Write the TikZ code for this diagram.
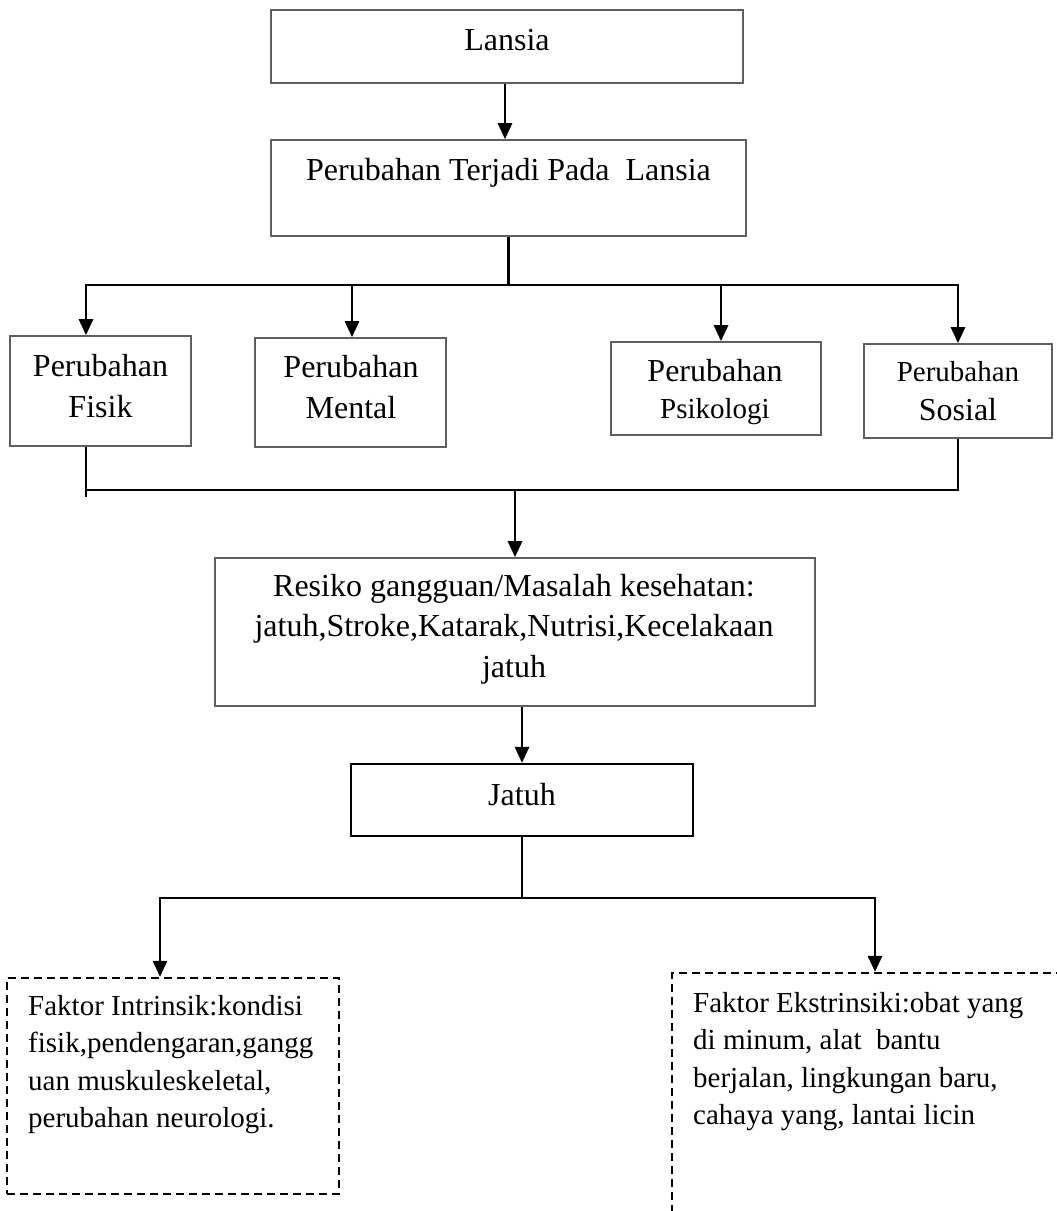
\documentclass[tikz,border=0pt]{standalone}
\usepackage{fontspec}
\setmainfont{Liberation Serif}
\usetikzlibrary{arrows.meta}
\definecolor{boxgray}{RGB}{95,95,95}
\begin{document}
\begin{tikzpicture}[x=1pt,y=-1pt,
  box/.style={draw=boxgray, line width=1.6pt, inner sep=0pt, rectangle},
  darkbox/.style={draw=black, line width=2.2pt, inner sep=0pt, rectangle},
  dbox/.style={draw=black, line width=2.2pt, dash pattern=on 8pt off 5pt, inner sep=0pt, rectangle},
  conn/.style={line width=2.8pt},
  arr/.style={line width=2.8pt, -{Triangle[length=16pt,width=14pt]}},
  big/.style={font=\fontsize{32}{40}\selectfont, inner sep=0pt, align=center, anchor=north},
  small/.style={font=\fontsize{29}{37.5}\selectfont, inner sep=0pt, align=left, anchor=north west},
]
\useasboundingbox (0,0) rectangle (1057,1211);

% boxes
\node[box, minimum width=472pt, minimum height=73pt] (lansia) at (507,46.5) {};
\node[box, minimum width=475pt, minimum height=96pt] (trans) at (508.5,188) {};
\node[box, minimum width=181pt, minimum height=110pt] (fisik) at (100.5,391) {};
\node[box, minimum width=191pt, minimum height=109pt] (mental) at (350.5,392.5) {};
\node[box, minimum width=210pt, minimum height=93pt] (psiko) at (716,388.5) {};
\node[box, minimum width=188pt, minimum height=94pt] (sosial) at (958,391) {};
\node[box, minimum width=600pt, minimum height=148pt] (resiko) at (515,632) {};
\node[darkbox, minimum width=342pt, minimum height=72pt] (jatuh) at (522,800) {};
\node[dbox, minimum width=332pt, minimum height=216pt] (intr) at (173,1086) {};
\begin{scope}
\clip (0,0) rectangle (1057,1211);
\node[dbox, minimum width=428pt, minimum height=290pt] (ekst) at (886,1118) {};
\end{scope}

% texts
\node[big] (tLansia) at (507,22) {\strut Lansia};
\node[big] (tTrans) at (508.5,152) {\strut Perubahan Terjadi Pada\ \ Lansia};
\node[big] (tFisik) at (100.5,348) {\strut Perubahan\\[1pt]Fisik};
\node[big] (tMental) at (351,349) {\strut Perubahan\\[1pt]Mental};
\node[big] (tPsiko) at (715,353) {\strut Perubahan\\[-3pt]{\fontsize{29}{37.5}\selectfont Psikologi}};
\node[big, font=\fontsize{29}{37.5}\selectfont] (tSosial) at (958,354.75) {\strut Perubahan\\[1.5pt]{\fontsize{32}{40}\selectfont Sosial}};
\node[big, font=\fontsize{32}{40.5}\selectfont] (tResiko) at (514,567.65) {\strut Resiko gangguan/Masalah kesehatan:\\jatuh,Stroke,Katarak,Nutrisi,Kecelakaan\\jatuh};
\node[big] (tJatuh) at (522,777) {\strut Jatuh};
\node[small] (tIntr) at (28,988.75) {\strut Faktor Intrinsik:kondisi\\fisik,pendengaran,gangg\\uan muskuleskeletal,\\perubahan neurologi.};
\node[small] (tEkst) at (693,985.75) {\strut Faktor Ekstrinsiki:obat yang\\di minum, alat\ \ bantu\\berjalan, lingkungan baru,\\cahaya yang, lantai licin};

% connectors
\coordinate (bL) at (86,285);
\coordinate (bM) at (352,285);
\coordinate (bP) at (721,285);
\coordinate (bR) at (958,285);
\draw[arr] (lansia.south -| 505,0) -- (trans.north -| 505,0);
\draw[arr] (trans.south) -- (trans.south |- bL) -- (bL) -- (bL |- fisik.north);
\draw[arr] (trans.south |- bR) -- (bR) -- (bR |- sosial.north);
\draw[arr] (bM) -- (bM |- mental.north);
\draw[arr] (bP) -- (bP |- psiko.north);

\coordinate (cL) at (86,490);
\coordinate (cLx) at (86,497);
\coordinate (cR) at (958,490);
\coordinate (cM) at (515,490);
\draw[conn] (fisik.south -| cL) -- (cLx);
\draw[conn] (sosial.south -| cR) -- (cR) -- (cL);
\draw[arr] (cM) -- (resiko.north);
\draw[arr] (resiko.south -| jatuh.north) -- (jatuh.north);

\coordinate (dL) at (160,898);
\coordinate (dR) at (875,898);
\draw[arr] (jatuh.south) -- (jatuh.south |- dL) -- (dL) -- (dL |- intr.north);
\draw[arr] (jatuh.south |- dR) -- (dR) -- (dR |- ekst.north);
\end{tikzpicture}
\end{document}
